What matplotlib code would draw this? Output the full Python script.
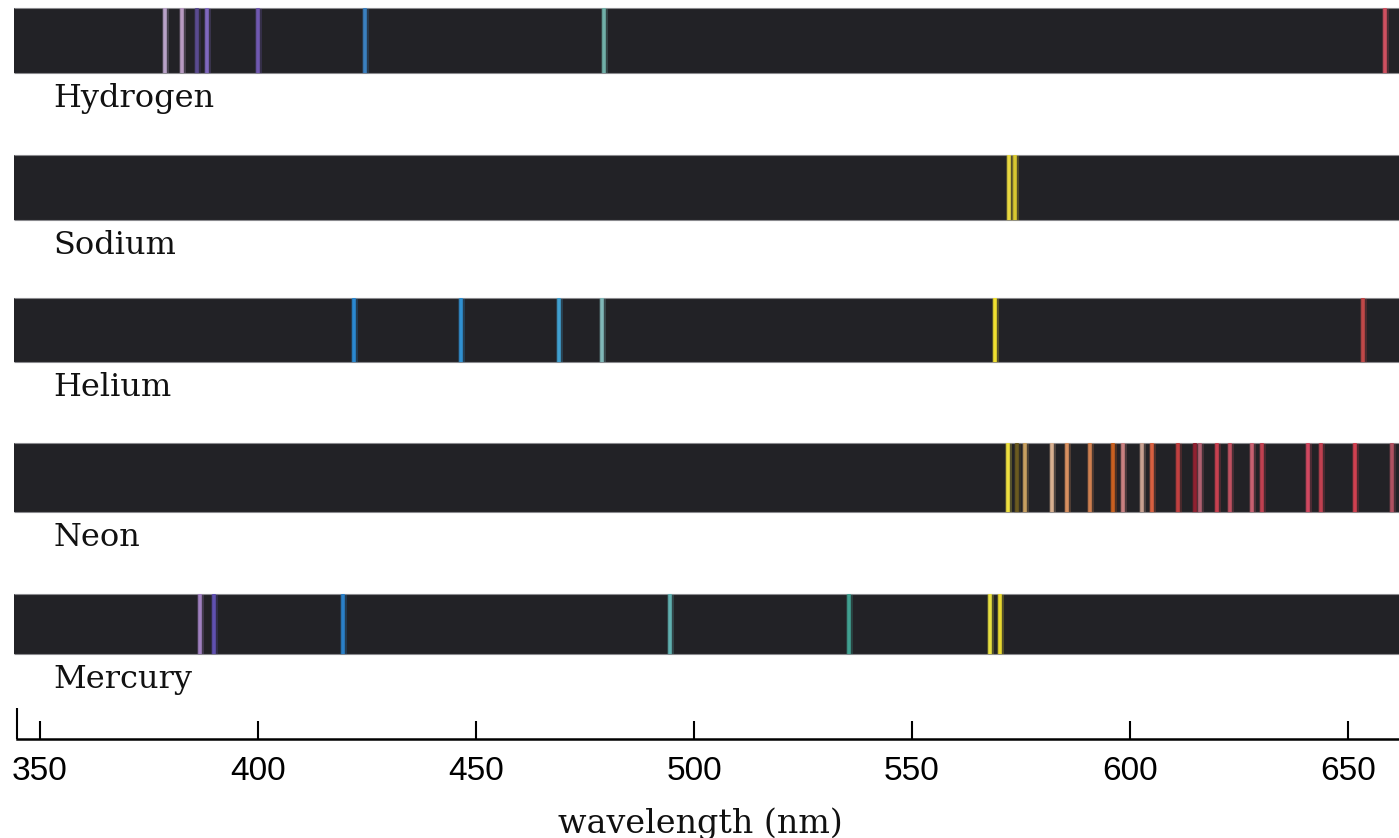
import matplotlib
matplotlib.use('Agg')
import matplotlib.pyplot as plt
from matplotlib import font_manager

W, H = 1399, 838

# ---------------- data ----------------
elements = ['Hydrogen', 'Sodium', 'Helium', 'Neon', 'Mercury']

hydrogen_nm = [378.7, 382.6, 386.0, 388.2, 400.0, 424.5, 479.4, 658.5]
hydrogen_col = ['#b9a2c8', '#b89ac2', '#5a4a90', '#8068c0', '#7058b0',
                '#3a80c0', '#70b0a8', '#d05060']

sodium_nm = [572.2, 573.6]
sodium_col = ['#e8d840', '#d8c830']

helium_nm = [422.0, 446.6, 469.0, 478.9, 569.0, 653.4]
helium_col = ['#2a88d0', '#3090d0', '#40a0d0', '#80b8b8', '#f0e030', '#c04848']

neon_nm = [572.1, 574.0, 575.9, 582.0, 585.5, 590.8, 596.2, 598.5, 602.7,
           605.0, 611.1, 614.9, 616.1, 619.9, 622.9, 627.9, 630.2, 640.9,
           643.9, 651.6, 660.0]
neon_col = ['#eee040', '#6a5a20', '#c8a060', '#d8b090', '#d89060', '#d08050',
            '#c86020', '#c88080', '#c8a090', '#d86040', '#c04040', '#902030',
            '#b06070', '#c84050', '#c05060', '#c86070', '#c04050', '#d04860',
            '#c04050', '#d04050', '#b05060']

mercury_nm = [386.7, 389.9, 419.5, 494.5, 535.6, 567.9, 570.2]
mercury_col = ['#a080c0', '#6050b0', '#2a80c8', '#60b0b0', '#40a090',
               '#e8e040', '#e8d830']

lines_nm = [hydrogen_nm, sodium_nm, helium_nm, neon_nm, mercury_nm]
lines_col = [hydrogen_col, sodium_col, helium_col, neon_col, mercury_col]

tick_values = [350, 400, 450, 500, 550, 600, 650]
xlabel = 'wavelength (nm)'

# ---------------- layout ----------------
XMIN, XMAX = 340.83, 661.7
BAR_START = 344.0
AXIS_START = 344.7
bar_top = [8, 155, 298, 443, 594]
bar_bot = [73, 220, 362, 512, 654]
LABEL_X = 353.0

avail = {f.name for f in font_manager.fontManager.ttflist}
tick_family = 'Liberation Sans Narrow' if 'Liberation Sans Narrow' in avail else 'Liberation Sans'

fig = plt.figure(figsize=(W / 100, H / 100), dpi=100)
fig.patch.set_facecolor('white')

ax = fig.add_axes([0, 0, 1, 1])
ax.set_xlim(XMIN, XMAX)
ax.set_ylim(H, 0)
ax.axis('off')

for name, top, bot, nms, cols in zip(elements, bar_top, bar_bot, lines_nm, lines_col):
    ax.barh((top + bot) / 2, XMAX - BAR_START, left=BAR_START, height=bot - top,
            color='#222226', edgecolor='none', zorder=1)
    ax.hlines([top, bot], BAR_START, XMAX, colors='#8a8a8e', lw=0.8, zorder=2)
    # soft glow then line
    ax.vlines(nms, top, bot, colors=cols, lw=5.0, alpha=0.25, zorder=2)
    ax.vlines(nms, top, bot, colors=cols, lw=2.6, zorder=3)
    ax.text(LABEL_X, bot + 34, name, ha='left', va='baseline',
            family='DejaVu Serif', fontsize=23, color='#111111')

# axis
AX_Y = 739
ax2 = fig.add_axes([0, (H - AX_Y) / H, 1, 0.06])
ax2.set_xlim(XMIN, XMAX)
ax2.patch.set_visible(False)
for s in ['top', 'left', 'right']:
    ax2.spines[s].set_visible(False)
ax2.spines['bottom'].set_bounds(AXIS_START, XMAX)
ax2.spines['bottom'].set_linewidth(1.8)
ax2.set_yticks([])
ax2.set_xticks(tick_values)
ax2.set_xticklabels([str(v) for v in tick_values])
ax2.tick_params(axis='x', direction='in', length=13, width=1.5, pad=12,
                labelsize=24, color='black')
for lbl in ax2.get_xticklabels():
    lbl.set_family(tick_family)
ax2.set_xticks([AXIS_START], minor=True)
ax2.tick_params(axis='x', which='minor', direction='in', length=22, width=1.5)

fig.text(700 / W, (H - 833) / H, xlabel, ha='center', va='baseline',
         family='DejaVu Serif', fontsize=24, color='#111111')

fig.savefig('out.png', dpi=100, facecolor='white')
